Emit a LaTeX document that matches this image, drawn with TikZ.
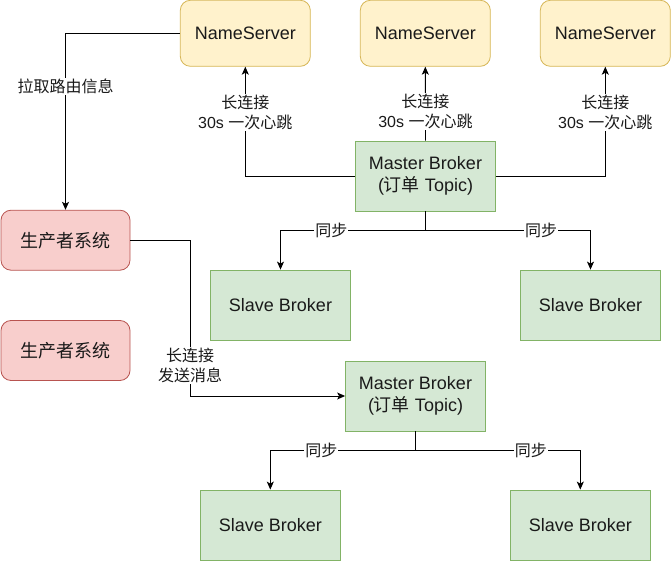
\documentclass[tikz,border=0pt]{standalone}
\usepackage{fontspec}
\setmainfont{Liberation Sans}
\newfontfamily\cjk{Noto Sans CJK SC}
\usetikzlibrary{arrows.meta}
\definecolor{ylwF}{HTML}{FFF2CC}\definecolor{ylwD}{HTML}{D6B656}
\definecolor{grnF}{HTML}{D5E8D4}\definecolor{grnD}{HTML}{82B366}
\definecolor{redF}{HTML}{F8CECC}\definecolor{redD}{HTML}{B85450}
\definecolor{txt}{HTML}{1A1A1A}
\tikzset{
  box/.style={minimum width=140pt,minimum height=70pt,inner sep=2pt,align=center,
    font=\fontsize{18}{22}\selectfont,text=txt,line width=0.8pt},
  nsbox/.style={box,draw=ylwD,fill=ylwF,rounded corners=10pt,minimum width=130pt,minimum height=66pt},
  gbox/.style={box,draw=grnD,fill=grnF},
  rbox/.style={box,draw=redD,fill=redF,rounded corners=10pt,minimum width=129pt,minimum height=60pt},
  arr/.style={draw=black,line width=0.9pt,-{Stealth[length=8pt,width=7pt,inset=2pt]}},
  lbl/.style={fill=white,inner sep=1pt,align=center,font=\fontsize{16}{20}\selectfont,text=txt}
}
\begin{document}
\begin{tikzpicture}[x=1pt,y=-1pt]
\useasboundingbox (0,0) rectangle (671,561);
% NameServers
\node[nsbox] (ns1) at (245.3,33.3) {NameServer};
\node[nsbox] (ns2) at (425.3,33.3) {NameServer};
\node[nsbox] (ns3) at (605.3,33.3) {NameServer};
% Master 1 and slaves
\node[gbox] (m1) at (425.5,176) {Master Broker\\({\cjk 订单} Topic)};
\node[gbox] (s1) at (280.5,305) {Slave Broker};
\node[gbox] (s2) at (590.5,305) {Slave Broker};
% producers
\node[rbox] (p1) at (65.5,240.2) {\cjk 生产者系统};
\node[rbox] (p2) at (65.5,350.5) {\cjk 生产者系统};
% Master 2 and slaves
\node[gbox] (m2) at (415.5,396) {Master Broker\\({\cjk 订单} Topic)};
\node[gbox] (s3) at (270.3,525) {Slave Broker};
\node[gbox] (s4) at (580.3,525) {Slave Broker};
% junctions
\coordinate (j1) at (425.5,230);
\coordinate (j2) at (415.5,450);
\coordinate (c1) at (190,240.2);
% heartbeats
\draw[arr] (m1.west) -| node[lbl,pos=0.79] {{\cjk 长连接}\\30s {\cjk 一次心跳}} (ns1.south);
\draw[arr] (m1.north) -- node[lbl,pos=0.39] {{\cjk 长连接}\\30s {\cjk 一次心跳}} (ns2.south);
\draw[arr] (m1.east) -| node[lbl,pos=0.79] {{\cjk 长连接}\\30s {\cjk 一次心跳}} (ns3.south);
% sync 1
\draw[arr] (m1.south) -- (j1) -| node[lbl,pos=0.325] {\cjk 同步} (s1.north);
\draw[arr] (j1) -| node[lbl,pos=0.35] {\cjk 同步} (s2.north);
% sync 2
\draw[arr] (m2.south) -- (j2) -| node[lbl,pos=0.324] {\cjk 同步} (s3.north);
\draw[arr] (j2) -| node[lbl,pos=0.35] {\cjk 同步} (s4.north);
% routing
\draw[arr] (ns1.west) -| node[lbl,pos=0.65] {\cjk 拉取路由信息} (p1.north);
% send
\draw[arr] (p1.east) -- (c1) |- node[lbl,pos=0.403] {{\cjk 长连接}\\{\cjk 发送消息}} (m2.west);
\end{tikzpicture}
\end{document}
